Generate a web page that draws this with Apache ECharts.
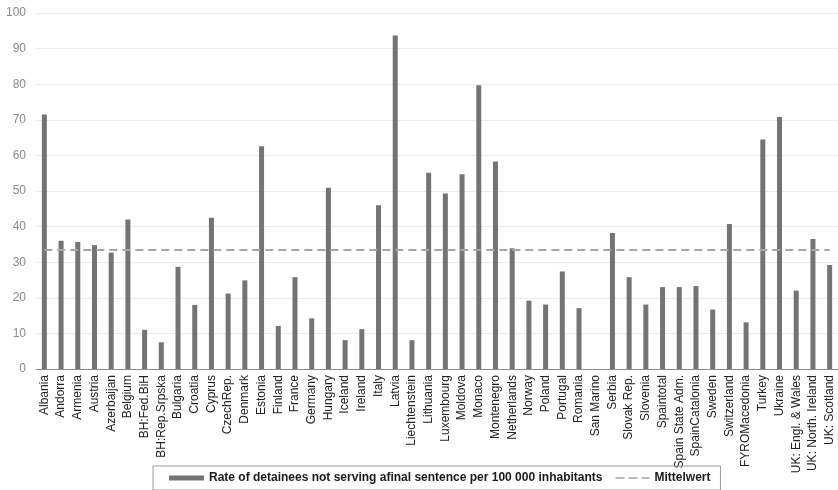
<!DOCTYPE html>
<html>
<head>
<meta charset="utf-8">
<script src="https://cdn.jsdelivr.net/npm/echarts@6/dist/echarts.min.js"></script>
<style>
html,body{margin:0;padding:0;background:#fff;}
#chart{width:838px;height:490px;}
</style>
</head>
<body>
<div id="chart"></div>
<script>
const categories = ["Albania","Andorra","Armenia","Austria","Azerbaijan","Belgium","BH:Fed.BiH","BH:Rep.Srpska","Bulgaria","Croatia","Cyprus","CzechRep.","Denmark","Estonia","Finland","France","Germany","Hungary","Iceland","Ireland","Italy","Latvia","Liechtenstein","Lithuania","Luxembourg","Moldova","Monaco","Montenegro","Netherlands","Norway","Poland","Portugal","Romania","San Marino","Serbia","Slovak Rep.","Slovenia","Spaintotal","Spain State Adm.","SpainCatalonia","Sweden","Switzerland","FYROMacedonia","Turkey","Ukraine","UK: Engl. & Wales","UK: North. Ireland","UK: Scotland"];
const rates = [71.5,36,35.7,34.8,32.7,42,11,7.5,28.7,18,42.5,21.2,24.9,62.6,12.1,25.8,14.2,50.9,8.1,11.2,46,93.7,8.1,55.1,49.3,54.7,79.7,58.3,33.9,19.2,18.1,27.4,17.1,null,38.2,25.8,18.1,23,23,23.3,16.7,40.7,13.1,64.5,70.8,22,36.5,29.2];
const meanValue = 33.4;
const yTicks = [0,10,20,30,40,50,60,70,80,90,100];
const barName = "Rate of detainees not serving afinal sentence per 100 000 inhabitants";
const lineName = "Mittelwert";

const dashIcon = 'path://M0,0h0.01v0.01h-0.01z M35,4.99h0.01v0.01h-0.01z M1,1.7h9v1.6h-9z M14,1.7h9v1.6h-9z M27,1.7h8v1.6h-8z';

const chart = echarts.init(document.getElementById('chart'));
chart.setOption({
  animation:false,
  backgroundColor:'#fff',
  textStyle:{fontFamily:'Liberation Sans, Arial, sans-serif'},
  grid:{left:36,right:0,top:13,bottom:121,containLabel:false},
  legend:{
    left:153, top:466,
    padding:[6,10,6,16],
    borderColor:'#9a9a9a', borderWidth:1, borderRadius:0,
    itemWidth:35, itemHeight:5, itemGap:12,
    textStyle:{fontSize:12,fontWeight:'bold',color:'#1a1a1a',fontFamily:'Liberation Sans, Arial, sans-serif'},
    data:[{name:barName,icon:'rect'},{name:lineName,icon:dashIcon}]
  },
  xAxis:{
    type:'category', data:categories,
    axisLine:{lineStyle:{color:'#8c8c8c',width:1}},
    axisTick:{show:false},
    axisLabel:{rotate:90,interval:0,fontSize:12,color:'#222',margin:6,fontFamily:'Liberation Sans, Arial, sans-serif'}
  },
  yAxis:{
    type:'value', min:yTicks[0], max:yTicks[yTicks.length-1], interval:10,
    axisLine:{show:false}, axisTick:{show:false},
    splitLine:{lineStyle:{color:'#ebebeb',width:1}},
    axisLabel:{fontSize:12,color:'#8a8a8a',margin:10,fontFamily:'Liberation Sans, Arial, sans-serif'}
  },
  series:[
    {name:barName,type:'bar',data:rates,barWidth:5,itemStyle:{color:'#747474'}},
    {name:lineName,type:'line',data:[],symbol:'none',
     itemStyle:{color:'#a6a6a6'},
     lineStyle:{color:'#a6a6a6',width:2,type:[8,5]},
     markLine:{silent:true,symbol:'none',label:{show:false},
       lineStyle:{color:'#a6a6a6',width:2,type:[8,5]},
       data:[[{coord:[categories[0],meanValue]},{coord:[categories[categories.length-1],meanValue]}]]}
    }
  ]
});
</script>
</body>
</html>
